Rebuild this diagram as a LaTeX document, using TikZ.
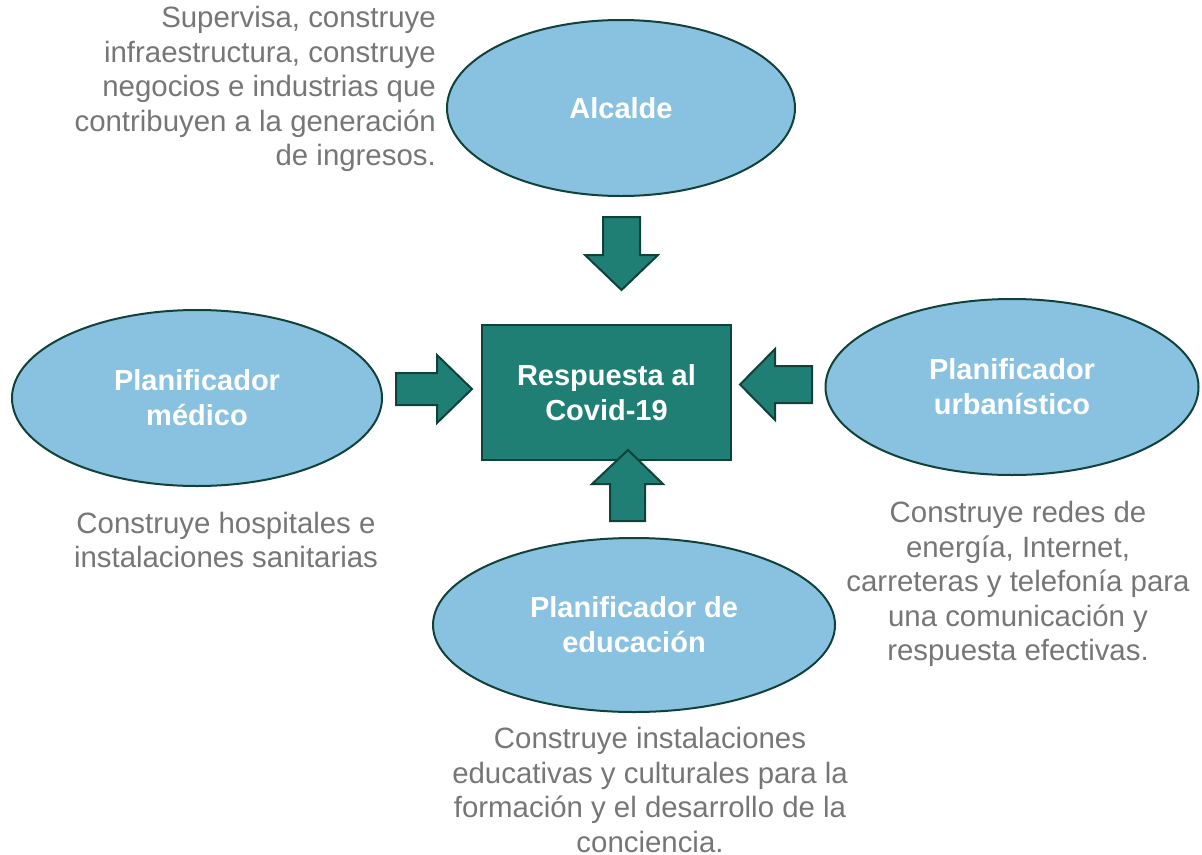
\documentclass[tikz,border=0pt]{standalone}
\usepackage{fontspec}
\setmainfont{Liberation Sans}
\usetikzlibrary{shapes.geometric}
\definecolor{tealfill}{RGB}{31,127,116}
\definecolor{darkline}{RGB}{16,66,58}
\definecolor{bluefill}{RGB}{137,194,224}
\definecolor{graytext}{RGB}{118,118,118}
\tikzset{
  ell/.style={ellipse, draw=darkline, line width=2pt, fill=bluefill, inner sep=0pt,
    text=white, font=\fontsize{29}{35}\selectfont\bfseries, align=center},
  centerbox/.style={rectangle, draw=darkline, line width=2.5pt, fill=tealfill, inner sep=0pt,
    text=white, font=\fontsize{29}{35}\selectfont\bfseries, align=center,
    minimum width=249pt, minimum height=135pt},
  desc/.style={text=graytext, font=\fontsize{29.4}{34.6}\selectfont, inner sep=0pt},
  blockarrow/.style={draw=darkline, line width=2pt, fill=tealfill, line join=miter}
}
\begin{document}
\begin{tikzpicture}[x=1pt,y=-1pt]
\useasboundingbox (0,0) rectangle (1202,854);

\node[ell, minimum width=348pt, minimum height=176pt] (alc) at (621,108) {Alcalde};
\node[ell, minimum width=370pt, minimum height=176pt] (med) at (197,398) {Planificador\\médico};
\node[ell, minimum width=373pt, minimum height=176pt] (urb) at (1012,387) {Planificador\\urbanístico};
\node[ell, minimum width=402pt, minimum height=174pt] (edu) at (634,625) {Planificador de\\educación};
\node[centerbox] (cov) at (606.5,392.5) {Respuesta al\\Covid-19};

% block arrows
\draw[blockarrow] (603,217) -- (640,217) -- (640,255) -- (658,255) -- (621.5,290) -- (585,255) -- (603,255) -- cycle;
\draw[blockarrow] (396,373) -- (437,373) -- (437,355) -- (472,389) -- (437,423) -- (437,405) -- (396,405) -- cycle;
\draw[blockarrow] (812,366) -- (775,366) -- (775,349) -- (740,384.5) -- (775,420) -- (775,403) -- (812,403) -- cycle;
\draw[blockarrow] (610,521) -- (645,521) -- (645,484) -- (663,484) -- (628,450) -- (592,484) -- (610,484) -- cycle;

% descriptions
\node[desc, align=right, anchor=east] (dalc) at (436,89) {Supervisa, construye\\infraestructura, construye\\negocios e industrias que\\contribuyen a la generación\\de ingresos.};
\node[desc, align=center] (dmed) at (226,540) {Construye hospitales e\\instalaciones sanitarias};
\node[desc, align=center] (durb) at (1018,584) {Construye redes de\\energía, Internet,\\carreteras y telefonía para\\una comunicación y\\respuesta efectivas.};
\node[desc, align=center] (dedu) at (650,790) {Construye instalaciones\\educativas y culturales para la\\formación y el desarrollo de la\\conciencia.};
\end{tikzpicture}
\end{document}
